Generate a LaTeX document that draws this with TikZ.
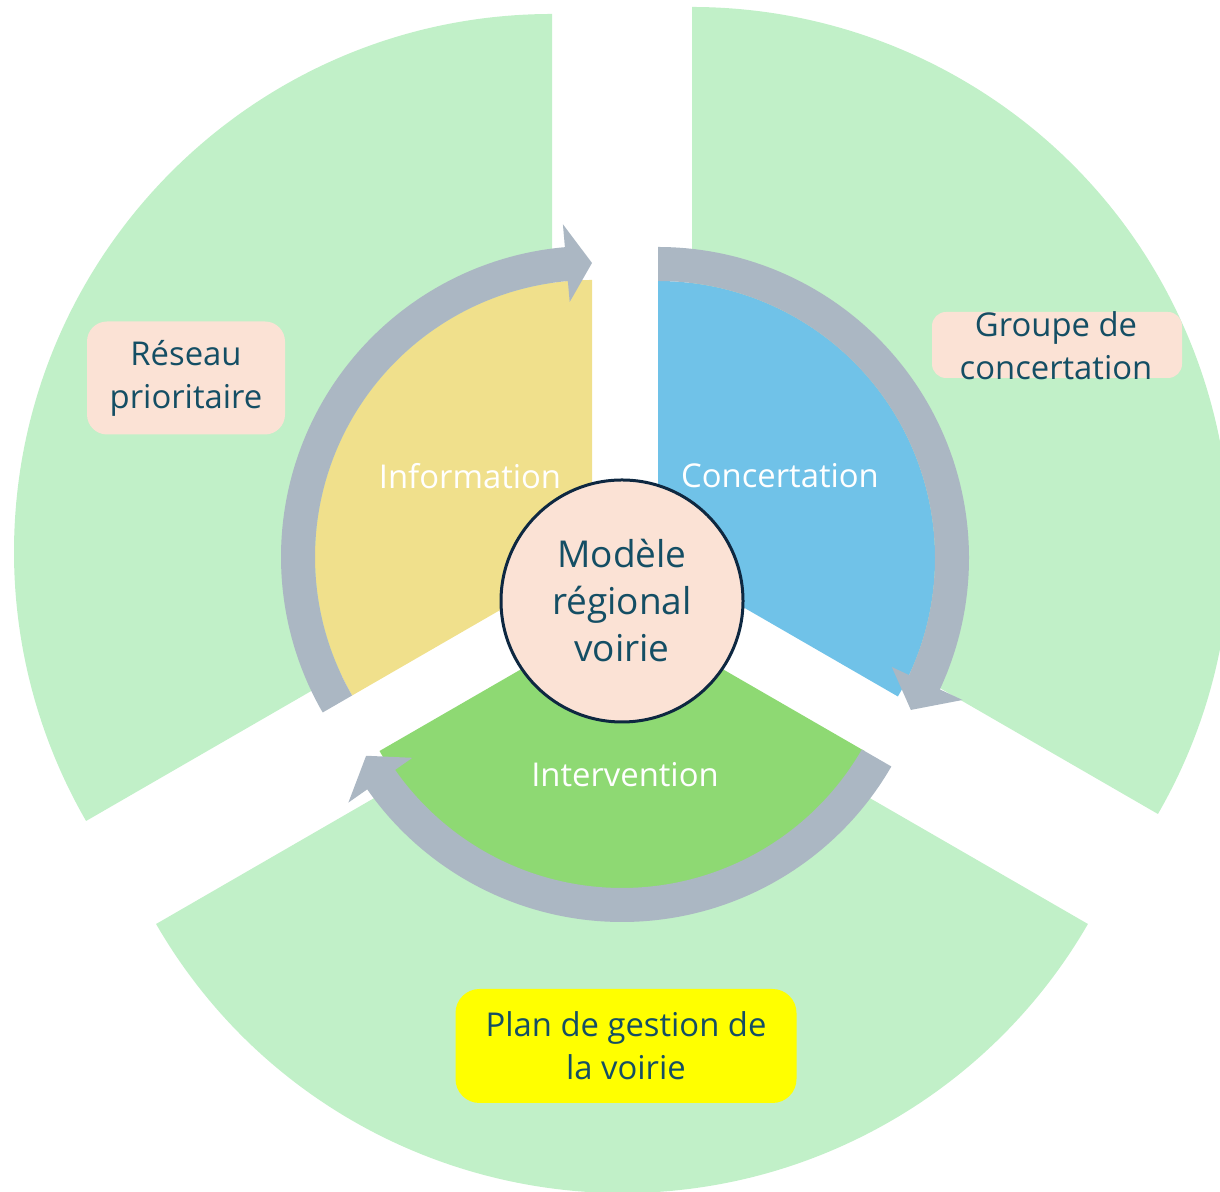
\documentclass[tikz,border=0pt]{standalone}
\usepackage{fontspec}
\setmainfont{Open Sans}
\usepackage{tikz}
\usetikzlibrary{calc}
\definecolor{outergreen}{RGB}{193,240,200}
\definecolor{infoyellow}{RGB}{240,224,140}
\definecolor{concblue}{RGB}{112,194,232}
\definecolor{intgreen}{RGB}{142,217,115}
\definecolor{ringgray}{RGB}{171,183,195}
\definecolor{peach}{RGB}{251,226,213}
\definecolor{planyellow}{RGB}{255,255,0}
\definecolor{tealtext}{RGB}{20,78,100}
\definecolor{navyline}{RGB}{14,40,65}
\tikzstyle{outer}=[fill=outergreen]
\tikzstyle{ring}=[fill=ringgray]
\tikzstyle{phase}=[font=\fontsize{16.4}{21.5}\selectfont,text=white]
\tikzstyle{notebox}=[rounded corners=10pt,inner sep=0pt,font=\fontsize{16.4}{21.5}\selectfont,text=tealtext,align=center]

\begin{document}
\begin{tikzpicture}[x=0.5pt,y=0.5pt]
  \useasboundingbox (0,0) rectangle (1220,1192);
  \clip (0,0) rectangle (1220,1192);

  % outer ring, three pieces pulled apart
  \coordinate (L) at (552,640);
  \coordinate (R) at (692,647);
  \coordinate (B) at (622,537);
  \fill[outer] (L) -- ++(90:538) arc[start angle=90,end angle=210,radius=538] -- cycle;
  \fill[outer] (R) -- ++(-30:538) arc[start angle=-30,end angle=90,radius=538] -- cycle;
  \fill[outer] (B) -- ++(210:538) arc[start angle=210,end angle=330,radius=538] -- cycle;

  % inner pie
  \coordinate (Y) at (592,635);
  \coordinate (C) at (658,634);
  \coordinate (G) at (622,581);
  \fill[infoyellow] (Y) -- ++(90:277) arc[start angle=90,end angle=210,radius=277] -- cycle;
  \fill[concblue] (C) -- ++(-30:277) arc[start angle=-30,end angle=90,radius=277] -- cycle;
  \fill[intgreen] (G) -- ++(210:280) arc[start angle=210,end angle=330,radius=280] -- cycle;

  % circular arrows
  \fill[ring] ($(Y)+(210:277)$) arc[start angle=210,end angle=95,radius=277]
     -- ($(Y)+(95:256)$) -- ($(Y)+(90:294)$) -- ($(Y)+(95:334)$) -- ($(Y)+(95:311)$)
     arc[start angle=95,end angle=210,radius=311] -- cycle;
  \fill[ring] ($(C)+(90:277)$) arc[start angle=90,end angle=-25,radius=277]
     -- ($(C)+(-25:258)$) -- ($(C)+(-31:295)$) -- ($(C)+(-25:336)$) -- ($(C)+(-25:311)$)
     arc[start angle=-25,end angle=90,radius=311] -- cycle;
  \fill[ring] ($(G)+(330:277)$) arc[start angle=330,end angle=215,radius=277]
     -- ($(G)+(215:256)$) -- ($(G)+(209.5:294)$) -- ($(G)+(215:334)$) -- ($(G)+(215:311)$)
     arc[start angle=215,end angle=330,radius=311] -- cycle;

  \node[phase] (info) at (470,716) {Information};
  \node[phase] (conc) at (780,716) {Concertation};
  \node[phase] (interv) at (625,417) {Intervention};

  \node[circle,draw=navyline,line width=1.5pt,fill=peach,minimum size=121pt,inner sep=0pt,
        align=center,text=tealtext,font=\fontsize{18.5}{23.5}\selectfont] (modele) at (622,591)
        {Mod\`ele\\r\'egional\\voirie};

  % side notes
  \node[notebox,fill=peach,minimum width=99pt,minimum height=56.5pt] (reseau) at (186,814) {R\'eseau\\prioritaire};
  \node[notebox,fill=peach,rounded corners=7pt,minimum width=125pt,minimum height=33pt] (grpbox) at (1057,847) {};
  \node[notebox] (groupe) at (1056,846) {Groupe de\\concertation};
  \node[notebox,fill=planyellow,rounded corners=12pt,minimum width=170.5pt,minimum height=57pt] (plan) at (626,146) {Plan de gestion de\\la voirie};
\end{tikzpicture}
\end{document}
